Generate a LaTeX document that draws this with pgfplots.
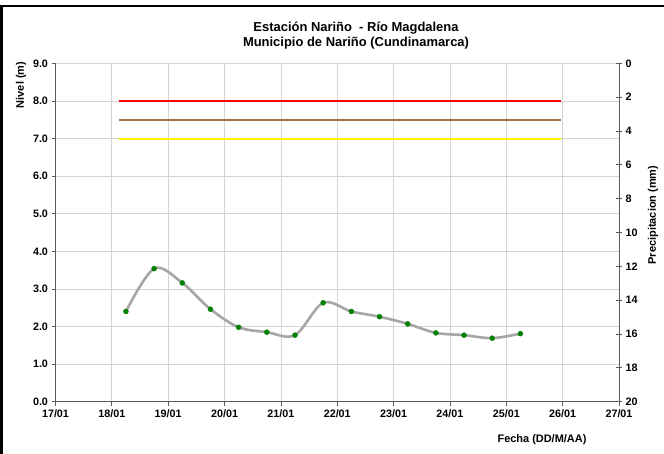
\documentclass[border=0pt]{standalone}
\usepackage{fontspec}
\setmainfont{Liberation Sans}
\usepackage{pgfplots}
\pgfplotsset{compat=1.18}
\definecolor{gridgray}{RGB}{212,212,212}
\definecolor{axisgray}{RGB}{90,90,90}
\definecolor{linegray}{RGB}{166,166,166}
\definecolor{markgreen}{RGB}{0,128,0}
\definecolor{brownline}{RGB}{160,112,64}

% nivel del rio (m), lecturas cada 12 h
\pgfplotstableread{
x y
18.25 2.40
18.75 3.54
19.25 3.16
19.75 2.46
20.25 1.98
20.75 1.85
21.25 1.77
21.75 2.63
22.25 2.40
22.75 2.26
23.25 2.07
23.75 1.83
24.25 1.77
24.75 1.69
25.25 1.81
}\nivel

\begin{document}
\begin{tikzpicture}
\path[use as bounding box] (0,0) rectangle (664bp,454bp);

\begin{axis}[
    at={(55.5bp,52.3bp)}, anchor=south west,
    scale only axis, width=563.5bp, height=338.4bp,
    xmin=17, xmax=27, ymin=0, ymax=9,
    xtick={17,...,27},
    xticklabels={17/01,18/01,19/01,20/01,21/01,22/01,23/01,24/01,25/01,26/01,27/01},
    ytick={0,...,9},
    grid=major,
    grid style={gridgray, line width=0.8bp},
    axis x line*=bottom, axis y line*=left,
    axis line style={axisgray, line width=0.8bp, -},
    tick style={axisgray, line width=0.8bp},
    tick align=outside, major tick length=4bp,
    yticklabel style={/pgf/number format/.cd, fixed, fixed zerofill, precision=1, assume math mode=true},
    ticklabel style={font=\bfseries\fontsize{10.8}{12}\selectfont},
    clip=false,
]
\addplot[red, line width=2bp] coordinates {(18.13,8) (25.97,8)};
\addplot[brownline, line width=2bp] coordinates {(18.13,7.5) (25.97,7.5)};
\addplot[yellow, line width=2bp] coordinates {(18.13,7) (25.97,7)};
\addplot[linegray, line width=2.6bp, smooth, tension=0.55] table {\nivel};
\addplot[only marks, mark=*, mark size=2.5bp, markgreen] table {\nivel};
\end{axis}

\begin{axis}[
    at={(55.5bp,52.3bp)}, anchor=south west,
    scale only axis, width=563.5bp, height=338.4bp,
    xmin=17, xmax=27, ymin=0, ymax=20, y dir=reverse,
    axis x line=none, axis y line*=right,
    axis line style={axisgray, line width=0.8bp, -},
    tick style={axisgray, line width=0.8bp},
    tick align=center, major tick length=6bp,
    ytick={0,2,...,20},
    yticklabel style={/pgf/number format/assume math mode=true},
    ticklabel style={font=\bfseries\fontsize{10.8}{12}\selectfont},
]
\addplot[draw=none] coordinates {(17,0)};
\end{axis}

\node[rotate=90, font=\bfseries\fontsize{11}{13}\selectfont] at (21bp,369bp) {Nivel (m)};
\node[rotate=90, font=\bfseries\fontsize{11}{13}\selectfont] at (653bp,239bp) {Precipitacion (mm)};
\node[font=\bfseries\fontsize{11}{13}\selectfont] at (542bp,14bp) {Fecha (DD/M/AA)};
\node[font=\bfseries\fontsize{13}{15}\selectfont, align=center] at (356bp,418.5bp)
    {Estación Nariño\ \ - Río Magdalena\\Municipio de Nariño (Cundinamarca)};

\draw[line width=2.5bp] (1.25bp,0) -- (1.25bp,448bp) -- (664bp,448bp);
\end{tikzpicture}
\end{document}
